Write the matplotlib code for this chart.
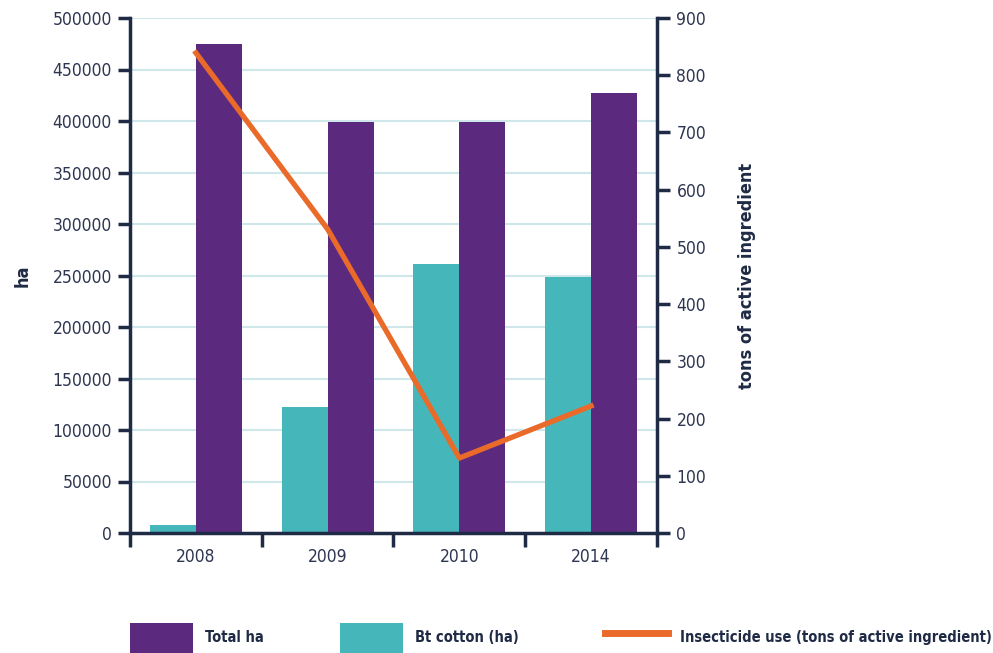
import numpy as np
import matplotlib.pyplot as plt
from matplotlib.patches import Patch
from matplotlib.lines import Line2D

# Data
years = ['2008', '2009', '2010', '2014']
total_ha = [474800, 399000, 399000, 427200]
bt_cotton_ha = [7800, 122300, 261500, 248500]
insecticide_tons = [839, 531, 131, 222]

# Colours
purple = '#5B2A7F'
teal = '#45B7BA'
orange = '#EA6A2A'
navy = '#1F2A44'
grid_col = '#CFE7E9'

# Condensed face to get close to the narrow font of the original
plt.rcParams['font.family'] = ['DejaVu Sans']
plt.rcParams['font.stretch'] = 'condensed'

fig = plt.figure(figsize=(9.93, 6.53), dpi=100)
ax = fig.add_axes([130 / 993, 1 - 533 / 653, 527 / 993, 515 / 653])

x = np.arange(len(years))
width = 0.35

# Bars on left axis
ax.bar(x - width / 2, bt_cotton_ha, width, color=teal, zorder=2)
ax.bar(x + width / 2, total_ha, width, color=purple, zorder=2)
ax.set_xlim(-0.5, len(years) - 0.5)
ax.set_ylim(0, 500000)
ax.set_yticks(np.arange(0, 500001, 50000))
ax.yaxis.grid(True, color=grid_col, linewidth=1.5, zorder=0)
ax.set_axisbelow(True)

# X ticks: labels at centres, marks at boundaries
ax.set_xticks(x)
ax.set_xticklabels(years)
ax.set_xticks(np.arange(-0.5, len(years), 1.0), minor=True)
ax.tick_params(axis='x', which='major', length=0, pad=11, labelsize=12.5, labelcolor='#2E3550')
ax.tick_params(axis='x', which='minor', length=10, width=2.5, color=navy, direction='out')
ax.tick_params(axis='y', length=9, width=2.5, color=navy, labelsize=12.5, labelcolor='#2E3550', pad=4)

for side in ['top', 'right']:
    ax.spines[side].set_visible(False)
for side in ['left', 'bottom']:
    ax.spines[side].set_color(navy)
    ax.spines[side].set_linewidth(2.5)

ax.set_ylabel('ha', fontsize=13, fontweight='bold', color=navy)
ax.yaxis.set_label_coords(-0.186, 0.5)

# Line on right axis
ax2 = ax.twinx()
ax2.plot(x, insecticide_tons, color=orange, linewidth=3.8, zorder=3)
ax2.set_ylim(0, 900)
ax2.set_yticks(np.arange(0, 901, 100))
ax2.tick_params(axis='y', length=9, width=2.5, color=navy, labelsize=12.5, labelcolor='#2E3550', pad=5)
for side in ['top', 'left', 'bottom']:
    ax2.spines[side].set_visible(False)
ax2.spines['right'].set_color(navy)
ax2.spines['right'].set_linewidth(2.5)
ax2.set_ylabel('tons of active ingredient', fontsize=13, fontweight='bold', color=navy)
ax2.yaxis.set_label_coords(1.154, 0.5)

# Legend at bottom, one entry each
handles = [
    (Patch(facecolor=purple), 'Total ha', 130),
    (Patch(facecolor=teal), 'Bt cotton (ha)', 340),
    (Line2D([0], [0], color=orange, linewidth=5), 'Insecticide use (tons of active ingredient)', 605),
]
for h, label, px in handles:
    fig.legend([h], [label], loc='lower left', bbox_to_anchor=(px / 993, 0.0),
               frameon=False, handlelength=4.3, handleheight=2.8,
               handletextpad=0.85, borderpad=0, borderaxespad=0,
               prop={'weight': 'bold', 'size': 10.5, 'stretch': 'condensed'})

for t in fig.legends:
    for txt in t.get_texts():
        txt.set_color(navy)

fig.savefig('out.png', dpi=100)
